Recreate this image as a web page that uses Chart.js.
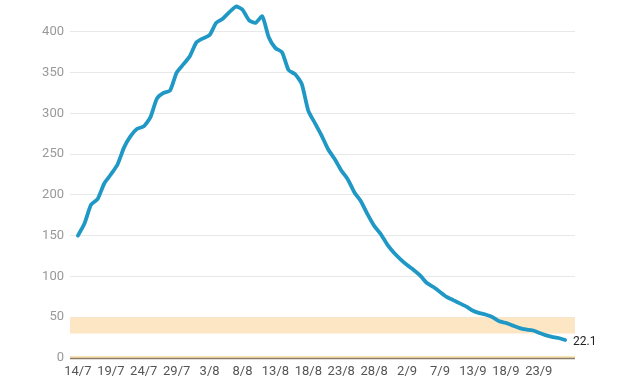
<!doctype html>
<html lang="en">
  <head>
    <meta charset="utf-8">
    <title>Daily cases</title>
    <style>
      * { margin: 0; padding: 0; }
      body { background: #fff; }
      .chartBox { width: 640px; height: 384px; }
    </style>
  </head>
  <body>
    <div class="chartBox">
      <canvas id="myChart" width="640" height="384"></canvas>
    </div>
    <script src="https://cdn.jsdelivr.net/npm/chart.js"></script>
    <script>
    // setup
    const dates = [
      '14/7','15/7','16/7','17/7','18/7','19/7','20/7','21/7','22/7','23/7',
      '24/7','25/7','26/7','27/7','28/7','29/7','30/7','31/7','1/8','2/8',
      '3/8','4/8','5/8','6/8','7/8','8/8','9/8','10/8','11/8','12/8',
      '13/8','14/8','15/8','16/8','17/8','18/8','19/8','20/8','21/8','22/8',
      '23/8','24/8','25/8','26/8','27/8','28/8','29/8','30/8','31/8','1/9',
      '2/9','3/9','4/9','5/9','6/9','7/9','8/9','9/9','10/9','12/9',
      '13/9','14/9','15/9','16/9','17/9','18/9','19/9','20/9','21/9','22/9',
      '23/9','24/9','25/9','26/9','27/9'
    ];
    const cases = [
      150, 165, 188, 195, 214, 225, 237, 258, 272, 281,
      284, 295, 318, 325, 328, 350, 360, 370, 387, 392,
      396, 411, 416, 424, 431, 427, 414, 411, 419, 393,
      380, 375, 353, 348, 336, 303, 288, 273, 256, 244,
      230, 219, 203, 192, 176, 162, 152, 139, 129, 121,
      114, 108, 101, 92, 87, 81, 75, 71, 67, 63,
      58, 55, 53, 50, 45, 43, 40, 37, 35, 34,
      31, 28, 26, 24.5, 22.1
    ];
    const xTickIndexes = [0, 5, 10, 15, 20, 25, 30, 35, 40, 45, 50, 55, 60, 65, 70];
    const yTicks = [0, 50, 100, 150, 200, 250, 300, 350, 400];
    const bandRange = [30, 50];
    const floorBand = [0, 2.5];

    const points = cases.map((v, i) => ({ x: i, y: v }));

    // shaded bands behind the line
    const bandPlugin = {
      id: 'bands',
      beforeDatasetsDraw(chart) {
        const { ctx, chartArea, scales: { y } } = chart;
        ctx.save();
        ctx.fillStyle = '#fde6c4';
        const top = y.getPixelForValue(bandRange[1]);
        const bot = y.getPixelForValue(bandRange[0]);
        ctx.fillRect(chartArea.left, top, chartArea.right - chartArea.left, bot - top);
        ctx.fillStyle = '#f8e4b4';
        const t2 = y.getPixelForValue(floorBand[1]);
        const b2 = y.getPixelForValue(floorBand[0]);
        ctx.fillRect(chartArea.left, t2, chartArea.right - chartArea.left, b2 - t2);
        ctx.strokeStyle = '#8c7d6a';
        ctx.lineWidth = 1.5;
        ctx.beginPath();
        ctx.moveTo(chartArea.left, b2 + 0.5);
        ctx.lineTo(chartArea.right, b2 + 0.5);
        ctx.stroke();
        ctx.restore();
      }
    };

    // last value label
    const endLabel = {
      id: 'endLabel',
      afterDatasetsDraw(chart) {
        const { ctx } = chart;
        const meta = chart.getDatasetMeta(0);
        const last = meta.data[meta.data.length - 1];
        ctx.save();
        ctx.fillStyle = '#222';
        ctx.font = '12px Roboto';
        ctx.textBaseline = 'middle';
        ctx.fillText(String(cases[cases.length - 1]), last.x + 8, last.y + 2);
        ctx.restore();
      }
    };

    // config
    const config = {
      type: 'line',
      data: {
        datasets: [{
          data: points,
          borderColor: '#1f98c6',
          borderWidth: 3.8,
          pointRadius: 0,
          tension: 0.2,
          borderCapStyle: 'round',
          borderJoinStyle: 'round'
        }]
      },
      options: {
        responsive: false,
        animation: false,
        layout: { padding: { top: 0, right: 65, left: 0, bottom: 0 } },
        plugins: { legend: { display: false }, tooltip: { enabled: false } },
        scales: {
          x: {
            type: 'linear',
            min: -1.2,
            max: 75.5,
            grid: { display: false, drawTicks: false },
            border: { display: false },
            afterBuildTicks: s => { s.ticks = xTickIndexes.map(v => ({ value: v })); },
            afterFit: s => { s.height = 26; s.paddingLeft = 0; s.paddingRight = 0; },
            ticks: {
              autoSkip: false,
              maxRotation: 0,
              padding: 6,
              color: '#555',
              font: { family: 'Roboto', size: 13 },
              callback: v => dates[v]
            }
          },
          y: {
            min: 0,
            max: 439,
            grid: { color: '#e8e8e8', drawTicks: false },
            border: { display: false },
            afterBuildTicks: s => { s.ticks = yTicks.map(v => ({ value: v })); },
            afterFit: s => { s.width = 70; s.paddingTop = 0; s.paddingBottom = 0; },
            ticks: {
              padding: 6,
              color: '#999',
              font: { family: 'Roboto', size: 13 }
            }
          }
        }
      },
      plugins: [bandPlugin, endLabel]
    };

    const myChart = new Chart(document.getElementById('myChart'), config);
    </script>
  </body>
</html>
